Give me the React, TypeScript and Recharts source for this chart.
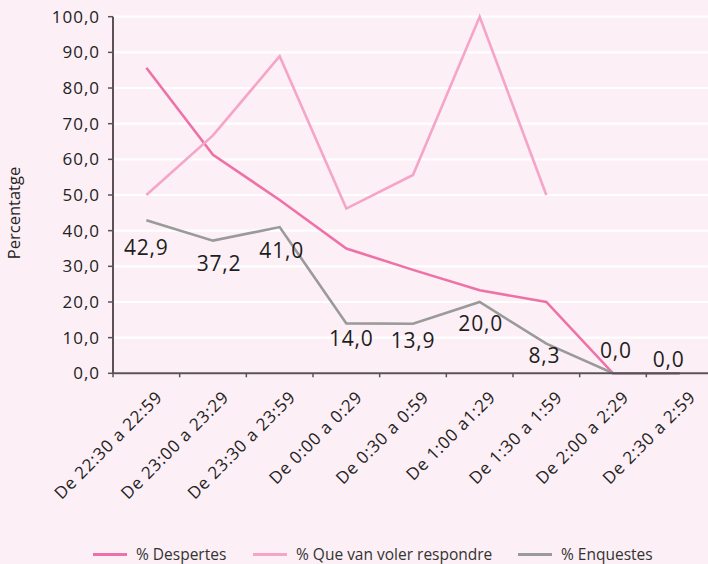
import React from 'react';
import { LineChart, Line, XAxis, YAxis, CartesianGrid, Legend, LabelList } from 'recharts';

const categories = [
  'De 22:30 a 22:59',
  'De 23:00 a 23:29',
  'De 23:30 a 23:59',
  'De 0:00 a 0:29',
  'De 0:30 a 0:59',
  'De 1:00 a1:29',
  'De 1:30 a 1:59',
  'De 2:00 a 2:29',
  'De 2:30 a 2:59',
];
const despertes = [85.7, 61.3, 48.6, 35.0, 29.0, 23.3, 20.0, 0.0, 0.0];
const volerRespondre = [50.0, 66.7, 88.9, 46.2, 55.6, 100.0, 50.0, null, null];
const enquestes = [42.9, 37.2, 41.0, 14.0, 13.9, 20.0, 8.3, 0.0, 0.0];
const yTicks = [0, 10, 20, 30, 40, 50, 60, 70, 80, 90, 100];
const seriesNames = ['% Despertes', '% Que van voler respondre', '% Enquestes'];

const data = categories.map((c, i) => ({
  cat: c,
  despertes: despertes[i],
  voler: volerRespondre[i],
  enquestes: enquestes[i],
}));

const W = 720;
const H = 564;
const BG = '#FCEFF5';
const AXIS = '#5B5257';
const C_DESP = '#EE72A8';
const C_VOLER = '#F4A5C8';
const C_ENQ = '#9B9A9B';
const seriesColors = [C_DESP, C_VOLER, C_ENQ];
const FONT = '"Open Sans", sans-serif';
const PLOT_LEFT = 113;
const PLOT_RIGHT = 713;
const HALF = (PLOT_RIGHT - PLOT_LEFT) / categories.length / 2;

// label offsets (dx, dy) relative to point, per index
const labelOffsets = [
  [0, 27], [6, 22], [2, 23], [5, 15], [0, 16], [1, 21], [-2, 11], [3, -23], [-11, -14],
];

const fmt = (v: number) => v.toFixed(1).replace('.', ',');

const XTick = (props: any) => {
  const { x, y, payload } = props;
  const tx = x + 17;
  const ty = y + 21;
  return (
    <g>
      <line x1={x - HALF} y1={y - 4} x2={x - HALF} y2={y} stroke={AXIS} strokeWidth={1.5} />
      <text
        x={tx}
        y={ty}
        transform={`rotate(-45 ${tx} ${ty})`}
        textAnchor="end"
        fontFamily={FONT}
        fontSize={17}
        letterSpacing={0.8}
        fill="#222"
      >
        {payload.value}
      </text>
    </g>
  );
};

const EnqLabel = (props: any) => {
  const { x, y, value, index } = props;
  if (value == null) return null;
  const [dx, dy] = labelOffsets[index] || [0, 0];
  return (
    <text
      x={x + dx}
      y={y + dy}
      textAnchor="middle"
      dominantBaseline="central"
      fontFamily={FONT}
      fontSize={21}
      letterSpacing={0.8}
      fill="#1e1e1e"
    >
      {fmt(value)}
    </text>
  );
};

const legendX = [93, 253, 518];
const renderLegend = () => (
  <div style={{ position: 'relative', height: 30, width: 700 }}>
    {seriesNames.map((name, i) => (
      <div
        key={name}
        style={{
          position: 'absolute',
          left: legendX[i],
          top: 0,
          height: 30,
          display: 'flex',
          alignItems: 'center',
          whiteSpace: 'nowrap',
          paddingTop: 10,
          boxSizing: 'border-box',
        }}
      >
        <span style={{ display: 'inline-block', width: 34, height: 3, background: seriesColors[i], marginRight: 9 }} />
        <span style={{ fontFamily: FONT, fontSize: 15.5, color: '#333' }}>{name}</span>
      </div>
    ))}
  </div>
);

export default function App() {
  return (
    <div style={{ position: 'absolute', left: 0, top: 0, width: 708, height: 564, overflow: 'hidden', background: BG }}>
      <LineChart width={W} height={H} data={data} margin={{ top: 16.7, right: W - PLOT_RIGHT, left: 0, bottom: 0 }}>
        <CartesianGrid vertical={false} stroke="#FFFFFF" strokeWidth={2.2} />
        <XAxis
          dataKey="cat"
          interval={0}
          padding={{ left: HALF, right: HALF }}
          height={160.7}
          tickSize={4}
          tickMargin={0}
          tickLine={false}
          tick={<XTick />}
          axisLine={{ stroke: AXIS, strokeWidth: 2 }}
        />
        <YAxis
          width={PLOT_LEFT}
          domain={[0, 100]}
          ticks={yTicks}
          interval={0}
          tickFormatter={fmt}
          tickSize={5}
          tickMargin={8}
          axisLine={{ stroke: AXIS, strokeWidth: 2 }}
          tickLine={{ stroke: AXIS, strokeWidth: 1.5 }}
          tick={{ fontFamily: FONT, fontSize: 17, letterSpacing: 1, fill: '#222' }}
          label={{
            content: () => (
              <text
                x={13}
                y={213}
                transform="rotate(-90 13 213)"
                textAnchor="middle"
                dominantBaseline="central"
                fontFamily={FONT}
                fontSize={16.5}
                fill="#222"
              >
                Percentatge
              </text>
            ),
          }}
        />
        <Legend verticalAlign="bottom" align="left" content={renderLegend} />
        <Line
          type="linear"
          dataKey="despertes"
          name={seriesNames[0]}
          stroke={C_DESP}
          strokeWidth={2.6}
          dot={false}
          activeDot={false}
          isAnimationActive={false}
        />
        <Line
          type="linear"
          dataKey="voler"
          name={seriesNames[1]}
          stroke={C_VOLER}
          strokeWidth={2.6}
          dot={false}
          activeDot={false}
          isAnimationActive={false}
        />
        <Line
          type="linear"
          dataKey="enquestes"
          name={seriesNames[2]}
          stroke={C_ENQ}
          strokeWidth={2.6}
          dot={false}
          activeDot={false}
          isAnimationActive={false}
        >
          <LabelList dataKey="enquestes" content={<EnqLabel />} />
        </Line>
      </LineChart>
    </div>
  );
}
